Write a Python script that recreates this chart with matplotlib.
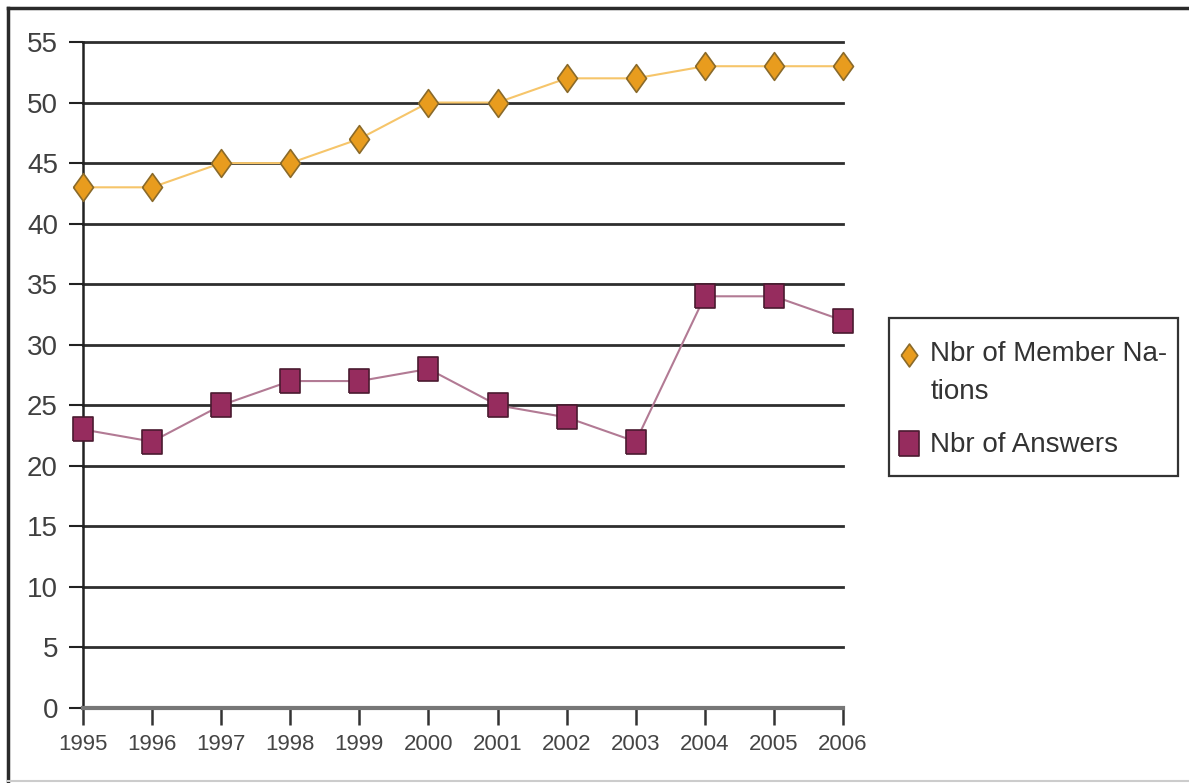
import numpy as np
import matplotlib.pyplot as plt
from matplotlib.patches import Rectangle
from matplotlib.legend_handler import HandlerLine2D

# yearly counts
years = [1995, 1996, 1997, 1998, 1999, 2000, 2001, 2002, 2003, 2004, 2005, 2006]
member_nations = [43, 43, 45, 45, 47, 50, 50, 52, 52, 53, 53, 53]
answers = [23, 22, 25, 27, 27, 28, 25, 24, 22, 34, 34, 32]
yticks = list(range(0, 56, 5))

plt.rcParams['font.family'] = ['Liberation Sans', 'DejaVu Sans']

W, H = 1189, 783

# slightly tall markers
diamond = [(-0.72, 0), (0, 1), (0.72, 0), (0, -1), (-0.72, 0)]
tall_sq = [(-0.82, -1), (0.82, -1), (0.82, 1), (-0.82, 1), (-0.82, -1)]


class TopLineHandler(HandlerLine2D):
    # put the legend marker next to the first line of a two-line label
    def __init__(self, shift=0, **kw):
        super().__init__(**kw)
        self.shift = shift

    def create_artists(self, legend, orig_handle, xdescent, ydescent, width, height,
                       fontsize, trans):
        arts = super().create_artists(legend, orig_handle, xdescent, ydescent, width,
                                      height, fontsize, trans)
        for a in arts:
            a.set_ydata(np.asarray(a.get_ydata()) + self.shift)
        return arts


fig = plt.figure(figsize=(W / 100, H / 100), dpi=100)
ax = fig.add_axes([83 / W, 1 - 708 / H, (843 - 83) / W, (708 - 42) / H])

x = np.arange(len(years))
for yv in yticks[1:]:
    ax.axhline(yv, color='#2e2e2e', lw=2.0, zorder=1)

ax.plot(x, member_nations, color='#f6c56a', lw=1.5, zorder=2)
h1, = ax.plot(x, member_nations, ls='none', marker=diamond, ms=20, mfc='#e89c1e',
              mec='#8a6a2a', mew=1.2, zorder=3, label='Nbr of Member Na-\ntions')
ax.plot(x, answers, color='#b27a94', lw=1.5, zorder=2)
h2, = ax.plot(x, answers, ls='none', marker=tall_sq, ms=17.5, mfc='#962c5e',
              mec='#4a1a30', mew=1.2, zorder=3, label='Nbr of Answers')

ax.set_xlim(0, len(years) - 1)
ax.set_ylim(0, 55)
ax.set_yticks(yticks)
ax.set_xticks(x)
ax.set_xticklabels([str(y) for y in years], fontsize=16, color='#454545')
ax.tick_params(axis='y', labelsize=20, color='#222222', length=10, width=1.5, pad=8,
               labelcolor='#404040')
ax.tick_params(axis='x', length=12, width=1.8, color='#333333', pad=7)

for s in ['top', 'right']:
    ax.spines[s].set_visible(False)
ax.spines['left'].set_color('#222222')
ax.spines['left'].set_linewidth(1.8)
ax.spines['bottom'].set_color('#777777')
ax.spines['bottom'].set_linewidth(3)
for ln in ax.lines:
    ln.set_clip_on(False)

# legend entries, with a plain box drawn around them
leg = fig.legend(handles=[h1, h2], loc='upper left',
                 bbox_to_anchor=(901 / W, 1 - 341 / H),
                 handler_map={h1: TopLineHandler(shift=13), h2: TopLineHandler(shift=0)},
                 frameon=False, fontsize=20, handlelength=0.6,
                 handletextpad=0.45, borderpad=0, labelspacing=1.0,
                 borderaxespad=0)
for t in leg.get_texts():
    t.set_color('#333333')
    t.set_linespacing(1.58)
leg.legend_handles[0].set_markersize(16.5)
leg.legend_handles[1].set_markersize(18)
fig.add_artist(Rectangle((889 / W, 1 - 476 / H), (1178 - 889) / W, (476 - 318) / H,
                         transform=fig.transFigure, fill=False, ec='#333333', lw=1.6))

# outer frame of the picture
fig.add_artist(plt.Line2D([8 / W, 8 / W], [0, 1 - 8 / H], transform=fig.transFigure,
                          color='#2a2a2a', lw=2.5))
fig.add_artist(plt.Line2D([8 / W, 1], [1 - 8 / H, 1 - 8 / H], transform=fig.transFigure,
                          color='#2a2a2a', lw=2.5))
fig.add_artist(plt.Line2D([8 / W, 1], [2 / H, 2 / H], transform=fig.transFigure,
                          color='#cccccc', lw=1.5))

fig.savefig('out.png', dpi=100)
